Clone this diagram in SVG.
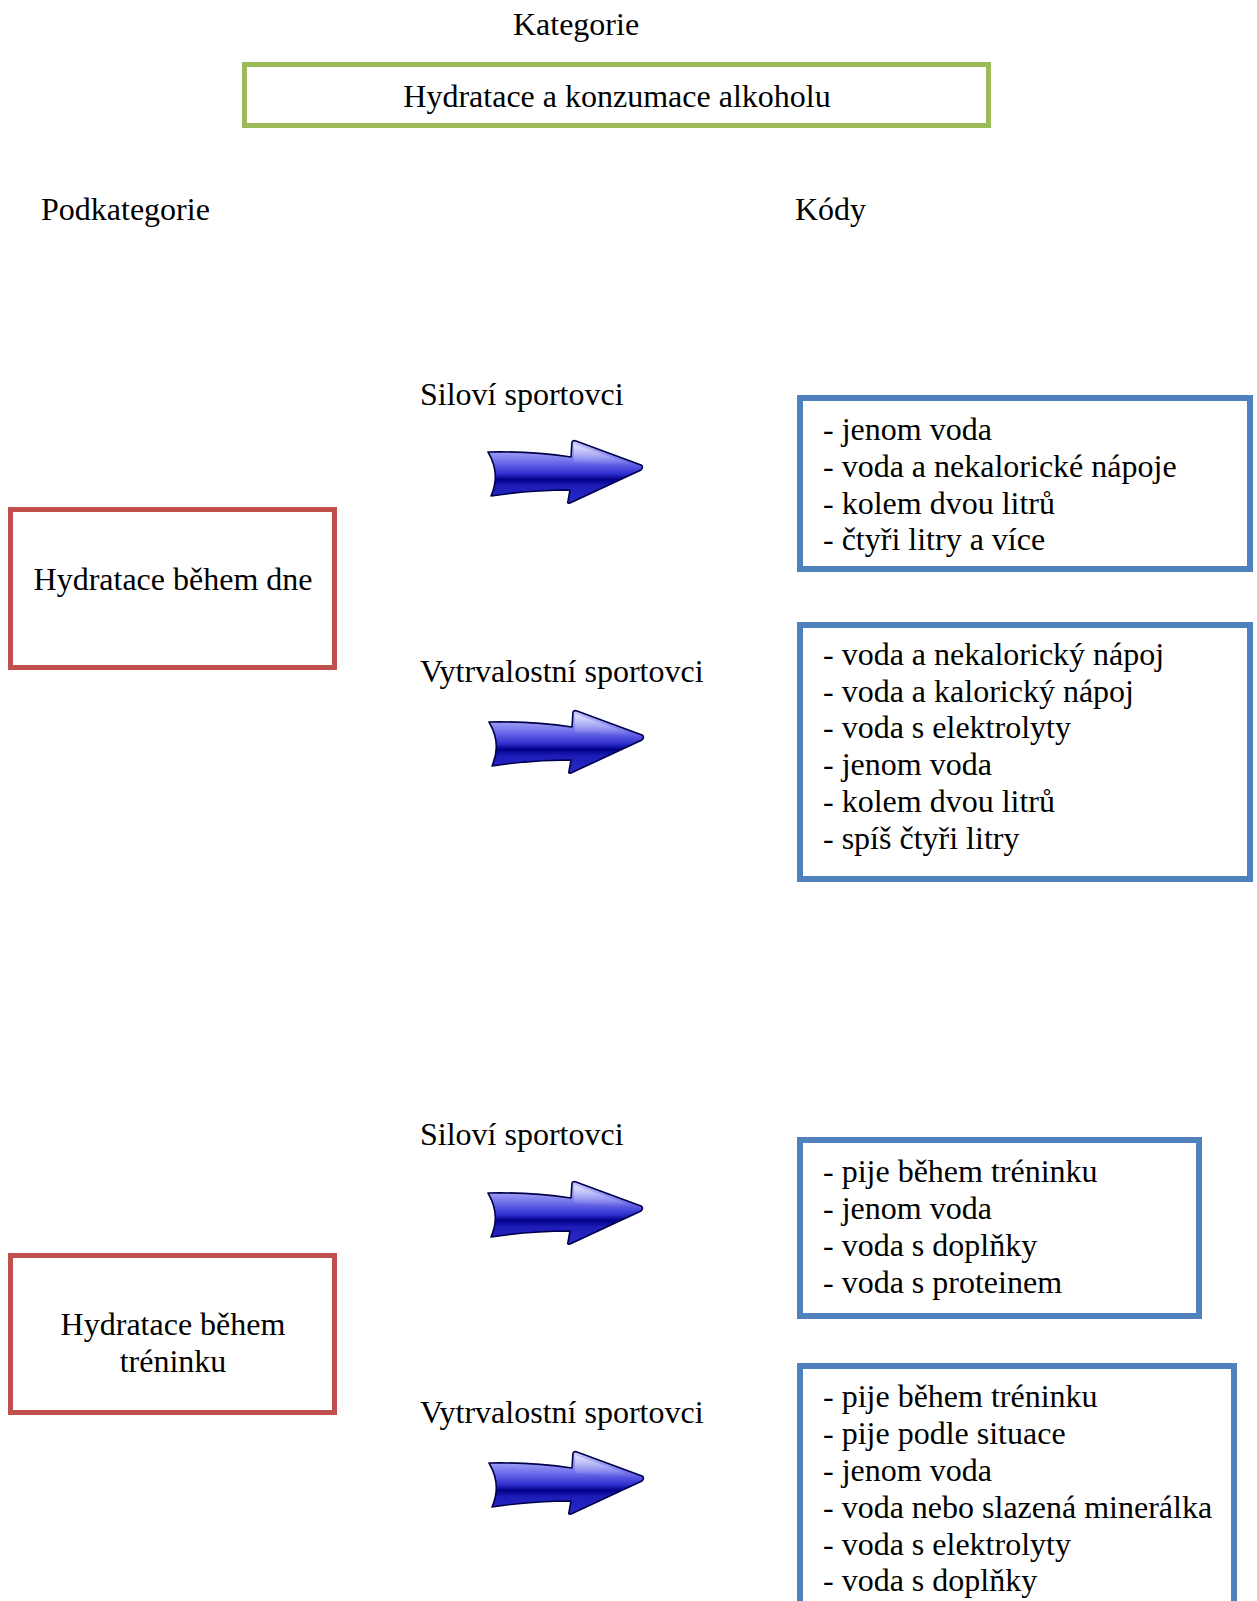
<svg xmlns="http://www.w3.org/2000/svg" xmlns:xlink="http://www.w3.org/1999/xlink" width="1257" height="1601" viewBox="0 0 1257 1601">
<style>
text{font-family:"Liberation Serif","Times New Roman",serif;font-size:32px;fill:#000}
.mid{text-anchor:middle}
.green{fill:#fff;stroke:#9BBB59;stroke-width:5}
.red{fill:#fff;stroke:#C0504D;stroke-width:5}
.blue{fill:#fff;stroke:#4F81BD;stroke-width:6}
.arrow{fill:url(#ag);stroke:#00004a;stroke-width:1.6;stroke-linejoin:round}
.shine{fill:url(#hg);opacity:0.6}
</style>
<defs>
<linearGradient id="ag" x1="0" y1="0" x2="0" y2="1">
<stop offset="0" stop-color="#d0d0ff"/>
<stop offset="0.3" stop-color="#7a7aee"/>
<stop offset="0.52" stop-color="#3232d2"/>
<stop offset="0.62" stop-color="#000088"/>
<stop offset="0.72" stop-color="#1c1cb8"/>
<stop offset="1" stop-color="#2a2ac6"/>
</linearGradient>
<linearGradient id="hg" x1="0" y1="0" x2="0" y2="1">
<stop offset="0" stop-color="#ffffff" stop-opacity="0.9"/>
<stop offset="1" stop-color="#ffffff" stop-opacity="0"/>
</linearGradient>
<g id="arr">
<path class="arrow" d="M488,452 Q530,451 571,457 L572,442 Q573,440 576,441 L641,465 Q644,467 641,470 L570,503 Q567,504 568,501 L570,490 Q530,490 491,496 Q501,474 488,452 Z"/>
<path class="shine" d="M574,444 L636,466 L574,462 Z"/>
</g>
</defs>

<g id="header">
<text class="mid" x="576" y="35">Kategorie</text>
<text x="41" y="220">Podkategorie</text>
<text x="795" y="220">Kódy</text>
</g>

<g id="category">
<rect class="green" x="244.5" y="64.5" width="744" height="61"/>
<text class="mid" x="617" y="107">Hydratace a konzumace alkoholu</text>
</g>

<g id="sub-den">
<rect class="red" x="10.5" y="509.5" width="324" height="158"/>
<text class="mid" x="173" y="590">Hydratace během dne</text>
</g>

<g id="sub-trenink">
<rect class="red" x="10.5" y="1255.5" width="324" height="157"/>
<text class="mid" x="173" y="1335">Hydratace během</text>
<text class="mid" x="173" y="1372">tréninku</text>
</g>

<g id="label-silovi-1"><text x="420" y="405">Siloví sportovci</text></g>
<g id="label-vytrv-1"><text x="420" y="682">Vytrvalostní sportovci</text></g>
<g id="label-silovi-2"><text x="420" y="1145">Siloví sportovci</text></g>
<g id="label-vytrv-2"><text x="420" y="1423">Vytrvalostní sportovci</text></g>

<g id="codes-1">
<rect class="blue" x="800" y="398" width="450" height="171"/>
<text x="823" y="440">- jenom voda</text>
<text x="823" y="477">- voda a nekalorické nápoje</text>
<text x="823" y="514">- kolem dvou litrů</text>
<text x="823" y="550">- čtyři litry a více</text>
</g>

<g id="codes-2">
<rect class="blue" x="800" y="625" width="450" height="254"/>
<text x="823" y="665">- voda a nekalorický nápoj</text>
<text x="823" y="702">- voda a kalorický nápoj</text>
<text x="823" y="738">- voda s elektrolyty</text>
<text x="823" y="775">- jenom voda</text>
<text x="823" y="812">- kolem dvou litrů</text>
<text x="823" y="849">- spíš čtyři litry</text>
</g>

<g id="codes-3">
<rect class="blue" x="800" y="1140" width="399" height="176"/>
<text x="823" y="1182">- pije během tréninku</text>
<text x="823" y="1219">- jenom voda</text>
<text x="823" y="1256">- voda s doplňky</text>
<text x="823" y="1293">- voda s proteinem</text>
</g>

<g id="codes-4">
<rect class="blue" x="800" y="1366" width="434" height="260"/>
<text x="823" y="1407">- pije během tréninku</text>
<text x="823" y="1444">- pije podle situace</text>
<text x="823" y="1481">- jenom voda</text>
<text x="823" y="1518">- voda nebo slazená minerálka</text>
<text x="823" y="1555">- voda s elektrolyty</text>
<text x="823" y="1591">- voda s doplňky</text>
</g>

<g id="connectors">
<use xlink:href="#arr"/>
<use xlink:href="#arr" transform="translate(1,270)"/>
<use xlink:href="#arr" transform="translate(0,741)"/>
<use xlink:href="#arr" transform="translate(1,1011)"/>
</g>
</svg>
